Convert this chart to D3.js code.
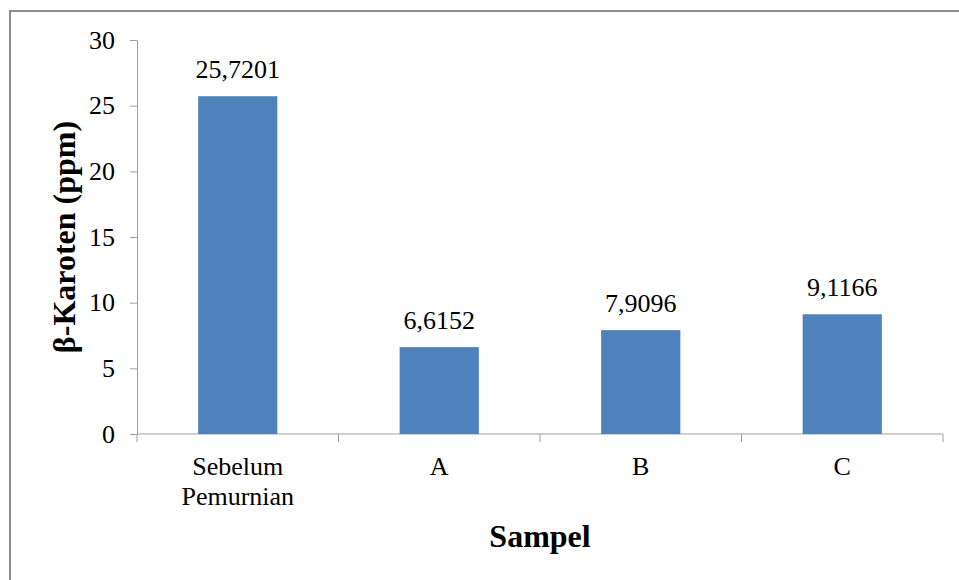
<!DOCTYPE html>
<html>
<head>
<meta charset="utf-8">
<script src="https://cdn.jsdelivr.net/npm/d3@7"></script>
<style>
  body { margin: 0; background: #fff; }
</style>
</head>
<body>
<div id="container"></div>
<script>
/* DATA */
const categories = ["Sebelum Pemurnian", "A", "B", "C"];
const catLines = [["Sebelum", "Pemurnian"], ["A"], ["B"], ["C"]];
const values = [25.7201, 6.6152, 7.9096, 9.1166];
const valueLabels = ["25,7201", "6,6152", "7,9096", "9,1166"];
const yTicks = [0, 5, 10, 15, 20, 25, 30];

const width = 959, height = 580;
const margin = {top: 40, bottom: 146, left: 137, right: 16};
const serif = "'Liberation Serif', 'Times New Roman', Times, serif";

const svg = d3.select("#container")
  .append("svg")
  .attr("width", width)
  .attr("height", height)
  .style("font-family", serif);

// outer frame
svg.append("rect")
  .attr("x", 10).attr("y", 11)
  .attr("width", width + 20).attr("height", height + 20)
  .attr("fill", "none")
  .attr("stroke", "#8c8c8c")
  .attr("stroke-width", 2);

// Scales
const xScale = d3.scaleBand()
  .domain(categories)
  .range([margin.left, width - margin.right])
  .paddingInner(0.607)
  .paddingOuter(0.3035);

const yScale = d3.scaleLinear()
  .domain([0, 30])
  .range([height - margin.bottom, margin.top]);

// Y axis
const yAxis = d3.axisLeft(yScale)
  .tickValues(yTicks)
  .tickSize(7)
  .tickPadding(15)
  .tickSizeOuter(0);
const gy = svg.append("g")
  .attr("transform", `translate(${margin.left},0)`)
  .call(yAxis)
  .attr("font-family", null)
  .attr("font-size", null);
gy.selectAll("line, path").attr("stroke", "#a0a0a0");
gy.selectAll("text")
  .style("font-family", serif)
  .style("font-size", "26px")
  .style("fill", "#000");

// X axis with boundary ticks between categories
const step = xScale.step();
const edges = d3.range(categories.length + 1).map(i => margin.left + i * step);
const gx = svg.append("g");
gx.append("line")
  .attr("x1", margin.left).attr("x2", width - margin.right)
  .attr("y1", yScale(0)).attr("y2", yScale(0))
  .attr("stroke", "#a0a0a0");
gx.selectAll(".tk")
  .data(edges)
  .join("line")
  .attr("class", "tk")
  .attr("x1", d => d).attr("x2", d => d)
  .attr("y1", yScale(0)).attr("y2", yScale(0) + 8)
  .attr("stroke", "#a0a0a0");

// Bars
svg.selectAll(".bar")
  .data(values)
  .join("rect")
  .attr("class", "bar")
  .attr("x", (d, i) => xScale(categories[i]))
  .attr("width", xScale.bandwidth())
  .attr("y", d => yScale(d))
  .attr("height", d => yScale(0) - yScale(d))
  .attr("fill", "#4f81bd");

// Value labels
svg.selectAll(".vlab")
  .data(values)
  .join("text")
  .attr("class", "vlab")
  .attr("x", (d, i) => xScale(categories[i]) + xScale.bandwidth() / 2)
  .attr("y", d => yScale(d) - 18)
  .attr("text-anchor", "middle")
  .style("font-family", serif)
  .style("font-size", "26px")
  .text((d, i) => valueLabels[i]);

// Category labels
const cl = svg.selectAll(".clab")
  .data(categories)
  .join("text")
  .attr("class", "clab")
  .attr("text-anchor", "middle")
  .style("font-family", serif)
  .style("font-size", "26px")
  .attr("transform", d => `translate(${xScale(d) + xScale.bandwidth() / 2},${yScale(0) + 41})`);
cl.selectAll("tspan")
  .data((d, i) => catLines[i])
  .join("tspan")
  .attr("x", 0)
  .attr("dy", (d, j) => j === 0 ? 0 : 30)
  .text(d => d);

// Y Label
svg.append("text")
  .attr("x", -(margin.top + (height - margin.bottom)) / 2)
  .attr("y", 75)
  .attr("transform", "rotate(-90)")
  .attr("text-anchor", "middle")
  .style("font-family", serif)
  .style("font-size", "32px")
  .style("font-weight", "bold")
  .text("β-Karoten (ppm)");

// X Label
svg.append("text")
  .attr("x", (margin.left + width - margin.right) / 2)
  .attr("y", 547)
  .attr("text-anchor", "middle")
  .style("font-family", serif)
  .style("font-size", "32px")
  .style("font-weight", "bold")
  .text("Sampel");
</script>
</body>
</html>
